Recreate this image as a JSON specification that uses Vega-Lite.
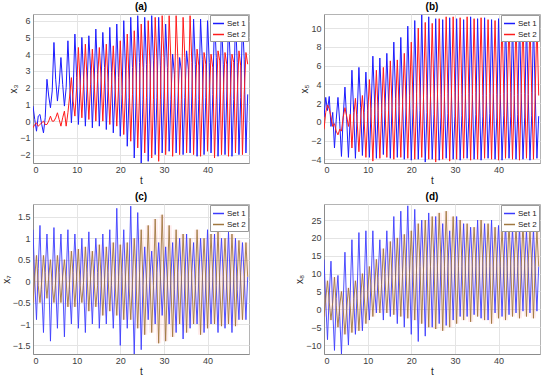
{
"$schema":"https://vega.github.io/schema/vega-lite/v6.json",
"background":"white",
"padding":{"left":0,"top":1,"right":2,"bottom":0},
"datasets":{"ts":[
{"t":0,"a1":0.9,"a2":-0.4,"b1":0.5,"b2":-0.8,"c1":1.2,"c2":-0.5,"d1":14,"d2":-2},
{"t":0.4,"a1":0.1,"a2":-0.2,"b1":2.6,"b2":1.0,"c1":0,"c2":0.1,"d1":2,"d2":3},
{"t":0.8,"a1":-0.6,"a2":-0.1,"b1":1.2,"b2":1.8,"c1":-0.9,"c2":0.6,"d1":-8.5,"d2":8},
{"t":1.2,"a1":0.3,"a2":-0.3,"b1":2.7,"b2":1.4,"c1":0.3,"c2":-0.1,"d1":4,"d2":2},
{"t":1.6,"a1":0.4,"a2":-0.2,"b1":-0.5,"b2":0.5,"c1":1.3,"c2":-0.5,"d1":13.5,"d2":-3},
{"t":2.0,"a1":-0.2,"a2":-0.1,"b1":1.0,"b2":-0.5,"c1":-0.2,"c2":0.0,"d1":0,"d2":2},
{"t":2.4,"a1":-0.7,"a2":0.0,"b1":-2.8,"b2":-0.2,"c1":-1.2,"c2":0.6,"d1":-11.5,"d2":9},
{"t":2.8,"a1":0.2,"a2":-0.2,"b1":0.2,"b2":-1.0,"c1":0.2,"c2":0.1,"d1":3,"d2":1},
{"t":3.2,"a1":2.5,"a2":-0.2,"b1":2.6,"b2":-1.4,"c1":1.1,"c2":-0.4,"d1":9.5,"d2":-5},
{"t":3.6,"a1":1.5,"a2":0.0,"b1":0.0,"b2":-0.8,"c1":0.1,"c2":0.1,"d1":-2,"d2":1},
{"t":4.0,"a1":0.8,"a2":0.3,"b1":-3.7,"b2":-1.0,"c1":-1.4,"c2":0.5,"d1":-12.5,"d2":5},
{"t":4.4,"a1":1.8,"a2":0.0,"b1":0.5,"b2":0.5,"c1":0.0,"c2":-0.1,"d1":2,"d2":0},
{"t":4.8,"a1":4.7,"a2":0.0,"b1":3.7,"b2":1.5,"c1":1.25,"c2":-0.5,"d1":16,"d2":-7},
{"t":5.2,"a1":2.5,"a2":0.2,"b1":0.2,"b2":0.6,"c1":-0.1,"c2":0.0,"d1":0,"d2":0},
{"t":5.6,"a1":1.2,"a2":0.5,"b1":-3.8,"b2":-0.5,"c1":-1.1,"c2":0.6,"d1":-10,"d2":6},
{"t":6.0,"a1":2.2,"a2":0.1,"b1":0.3,"b2":0.8,"c1":0.2,"c2":0.1,"d1":4,"d2":1},
{"t":6.4,"a1":3.8,"a2":-0.3,"b1":5.5,"b2":-2.8,"c1":1.1,"c2":-0.5,"d1":19.5,"d2":-6.5},
{"t":6.8,"a1":2.2,"a2":0.2,"b1":1.0,"b2":0.5,"c1":0.0,"c2":0.1,"d1":3,"d2":2},
{"t":7.2,"a1":0.9,"a2":0.6,"b1":-3.9,"b2":2.5,"c1":-1.3,"c2":0.5,"d1":-7,"d2":8},
{"t":7.6,"a1":2.0,"a2":-0.3,"b1":0.8,"b2":0.0,"c1":0.1,"c2":0.0,"d1":5,"d2":3},
{"t":8.0,"a1":4.8,"a2":0.5,"b1":5.8,"b2":-3.2,"c1":1.2,"c2":-0.6,"d1":21.5,"d2":-6},
{"t":8.4,"a1":2.4,"a2":1.5,"b1":1.5,"b2":0.3,"c1":-0.2,"c2":0.0,"d1":4,"d2":3},
{"t":8.8,"a1":-0.1,"a2":2.6,"b1":-3.6,"b2":2.8,"c1":-1.0,"c2":0.7,"d1":-6,"d2":10},
{"t":9.2,"a1":1.8,"a2":1.2,"b1":1.0,"b2":0.2,"c1":0.2,"c2":0.1,"d1":6,"d2":4},
{"t":9.6,"a1":5.2,"a2":0.3,"b1":5.3,"b2":-3.8,"c1":1.1,"c2":-0.6,"d1":22,"d2":-4},
{"t":10.0,"a1":2.6,"a2":2.0,"b1":1.2,"b2":0.5,"c1":0.1,"c2":0.1,"d1":5,"d2":4},
{"t":10.4,"a1":-0.2,"a2":4.4,"b1":-3.8,"b2":4.5,"c1":-1.1,"c2":0.75,"d1":-3,"d2":12},
{"t":10.8,"a1":2.0,"a2":2.2,"b1":1.4,"b2":0.6,"c1":0.0,"c2":-0.1,"d1":8,"d2":6},
{"t":11.2,"a1":5.0,"a2":0.2,"b1":7.0,"b2":-4.2,"c1":1.0,"c2":-0.5,"d1":22,"d2":-2},
{"t":11.6,"a1":2.5,"a2":2.3,"b1":2.0,"b2":0.8,"c1":-0.1,"c2":0.0,"d1":6,"d2":6},
{"t":12.0,"a1":-0.3,"a2":4.6,"b1":-3.9,"b2":5.5,"c1":-1.2,"c2":0.8,"d1":-1,"d2":14},
{"t":12.4,"a1":2.1,"a2":2.4,"b1":1.2,"b2":1.0,"c1":0.2,"c2":0.1,"d1":9,"d2":7},
{"t":12.8,"a1":5.1,"a2":0.1,"b1":6.8,"b2":-3.9,"c1":1.15,"c2":-0.7,"d1":19.5,"d2":-1},
{"t":13.2,"a1":3.0,"a2":2.2,"b1":1.8,"b2":1.0,"c1":0.0,"c2":0.1,"d1":7,"d2":7},
{"t":13.6,"a1":-0.4,"a2":4.3,"b1":-3.5,"b2":5.8,"c1":-1.0,"c2":0.7,"d1":-3,"d2":17},
{"t":14.0,"a1":2.2,"a2":2.5,"b1":1.5,"b2":1.2,"c1":0.1,"c2":0.0,"d1":10,"d2":8},
{"t":14.4,"a1":5.5,"a2":0.0,"b1":7.3,"b2":-3.8,"c1":1.0,"c2":-0.6,"d1":22,"d2":-1},
{"t":14.8,"a1":2.8,"a2":2.5,"b1":2.2,"b2":1.2,"c1":0.2,"c2":-0.1,"d1":8,"d2":8},
{"t":15.2,"a1":-0.3,"a2":4.4,"b1":-3.9,"b2":6.5,"c1":-1.1,"c2":0.85,"d1":-2,"d2":19},
{"t":15.6,"a1":2.4,"a2":2.6,"b1":1.8,"b2":1.5,"c1":-0.1,"c2":0.1,"d1":11,"d2":9},
{"t":16.0,"a1":5.3,"a2":0.0,"b1":8.5,"b2":-4.0,"c1":1.1,"c2":-0.8,"d1":26,"d2":-1.5},
{"t":16.4,"a1":3.2,"a2":2.4,"b1":2.5,"b2":1.5,"c1":0.0,"c2":0.0,"d1":9,"d2":9},
{"t":16.8,"a1":-0.5,"a2":4.6,"b1":-3.8,"b2":6.6,"c1":-1.0,"c2":0.8,"d1":-4,"d2":20},
{"t":17.2,"a1":2.0,"a2":2.3,"b1":1.6,"b2":1.6,"c1":0.2,"c2":0.1,"d1":12,"d2":10},
{"t":17.6,"a1":5.6,"a2":-0.2,"b1":9.0,"b2":-3.8,"c1":1.2,"c2":-0.7,"d1":27.5,"d2":-2},
{"t":18.0,"a1":2.9,"a2":2.2,"b1":2.4,"b2":1.8,"c1":-0.1,"c2":0.1,"d1":10,"d2":10},
{"t":18.4,"a1":-0.7,"a2":4.5,"b1":-4.0,"b2":7.3,"c1":-1.1,"c2":0.9,"d1":-5,"d2":21},
{"t":18.8,"a1":1.8,"a2":2.2,"b1":1.5,"b2":2.0,"c1":0.0,"c2":0.0,"d1":12,"d2":11},
{"t":19.2,"a1":5.8,"a2":-0.3,"b1":10.2,"b2":-3.9,"c1":1.7,"c2":-0.8,"d1":29,"d2":-2.5},
{"t":19.6,"a1":2.6,"a2":2.0,"b1":2.8,"b2":2.0,"c1":0.1,"c2":0.0,"d1":10,"d2":10},
{"t":20.0,"a1":-0.9,"a2":4.8,"b1":-4.1,"b2":8.5,"c1":-1.5,"c2":0.85,"d1":-7,"d2":22},
{"t":20.4,"a1":1.6,"a2":2.0,"b1":1.4,"b2":2.2,"c1":0.2,"c2":0.1,"d1":13,"d2":11},
{"t":20.8,"a1":6.0,"a2":-0.8,"b1":10.8,"b2":-4.0,"c1":1.2,"c2":-0.9,"d1":28,"d2":-3},
{"t":21.2,"a1":3.0,"a2":1.8,"b1":3.0,"b2":2.2,"c1":0.0,"c2":0.1,"d1":11,"d2":11},
{"t":21.6,"a1":-1.5,"a2":5.2,"b1":-4.0,"b2":10.0,"c1":-1.1,"c2":0.9,"d1":-9,"d2":24},
{"t":22.0,"a1":1.4,"a2":2.5,"b1":1.2,"b2":2.5,"c1":0.1,"c2":-0.1,"d1":12,"d2":12},
{"t":22.4,"a1":6.2,"a2":-1.2,"b1":11.4,"b2":-3.8,"c1":1.75,"c2":-0.9,"d1":25,"d2":-4},
{"t":22.8,"a1":3.2,"a2":1.6,"b1":2.6,"b2":2.5,"c1":-0.2,"c2":0.0,"d1":11,"d2":11},
{"t":23.2,"a1":-2.2,"a2":5.4,"b1":-4.3,"b2":10.6,"c1":-1.7,"c2":1.0,"d1":-7.5,"d2":25},
{"t":23.6,"a1":1.2,"a2":3.0,"b1":1.0,"b2":2.8,"c1":0.0,"c2":0.1,"d1":13,"d2":12},
{"t":24.0,"a1":6.3,"a2":-1.6,"b1":11.2,"b2":-4.0,"c1":1.6,"c2":-1.1,"d1":27,"d2":-5},
{"t":24.4,"a1":3.5,"a2":1.5,"b1":2.9,"b2":2.6,"c1":0.2,"c2":0.1,"d1":12,"d2":12},
{"t":24.8,"a1":-2.5,"a2":5.8,"b1":-4.0,"b2":10.5,"c1":-1.6,"c2":1.2,"d1":-5,"d2":26},
{"t":25.2,"a1":1.3,"a2":3.2,"b1":0.8,"b2":3.0,"c1":-0.1,"c2":0.0,"d1":12,"d2":13},
{"t":25.6,"a1":6.2,"a2":-1.9,"b1":11.0,"b2":-4.3,"c1":0.8,"c2":-1.25,"d1":26,"d2":-5.5},
{"t":26.0,"a1":3.4,"a2":1.4,"b1":3.0,"b2":2.8,"c1":0.0,"c2":0.0,"d1":11,"d2":12},
{"t":26.4,"a1":-2.4,"a2":6.0,"b1":-4.1,"b2":11.0,"c1":-0.9,"c2":1.3,"d1":-4,"d2":27},
{"t":26.8,"a1":1.5,"a2":3.4,"b1":0.5,"b2":2.9,"c1":0.1,"c2":0.1,"d1":13,"d2":13},
{"t":27.2,"a1":6.3,"a2":-2.2,"b1":10.9,"b2":-4.0,"c1":0.7,"c2":-1.2,"d1":24,"d2":-6},
{"t":27.6,"a1":3.6,"a2":1.3,"b1":2.7,"b2":2.7,"c1":-0.1,"c2":-0.1,"d1":12,"d2":12},
{"t":28.0,"a1":-2.0,"a2":6.2,"b1":-3.9,"b2":11.2,"c1":-1.0,"c2":1.45,"d1":-4.5,"d2":27.5},
{"t":28.4,"a1":1.4,"a2":3.6,"b1":0.9,"b2":3.0,"c1":0.2,"c2":0.0,"d1":12,"d2":13},
{"t":28.8,"a1":6.2,"a2":-2.4,"b1":11.1,"b2":-4.2,"c1":0.9,"c2":-1.45,"d1":22,"d2":-5},
{"t":29.2,"a1":3.3,"a2":1.3,"b1":3.1,"b2":2.9,"c1":0.1,"c2":0.1,"d1":11,"d2":13},
{"t":29.6,"a1":-1.9,"a2":6.3,"b1":-4.0,"b2":11.2,"c1":-0.8,"c2":1.55,"d1":-3,"d2":26},
{"t":30.0,"a1":1.5,"a2":3.8,"b1":0.6,"b2":3.1,"c1":0.0,"c2":0.1,"d1":13,"d2":12},
{"t":30.4,"a1":5.8,"a2":-2.0,"b1":11.0,"b2":-4.0,"c1":0.8,"c2":-1.4,"d1":26,"d2":-4},
{"t":30.8,"a1":3.2,"a2":1.5,"b1":2.8,"b2":3.0,"c1":0.0,"c2":0.0,"d1":12,"d2":12},
{"t":31.2,"a1":-1.8,"a2":6.3,"b1":-4.1,"b2":11.1,"c1":-1.0,"c2":1.3,"d1":-2,"d2":25},
{"t":31.6,"a1":1.3,"a2":3.6,"b1":0.7,"b2":2.9,"c1":0.1,"c2":-0.1,"d1":12,"d2":13},
{"t":32.0,"a1":4.0,"a2":-2.1,"b1":10.9,"b2":-3.9,"c1":0.9,"c2":-1.3,"d1":24,"d2":-3},
{"t":32.4,"a1":2.8,"a2":1.4,"b1":3.0,"b2":2.8,"c1":-0.2,"c2":0.1,"d1":11,"d2":12},
{"t":32.8,"a1":-1.9,"a2":6.3,"b1":-3.9,"b2":11.2,"c1":-1.2,"c2":1.2,"d1":-2,"d2":24},
{"t":33.2,"a1":1.2,"a2":3.7,"b1":0.5,"b2":3.0,"c1":0.2,"c2":0.0,"d1":13,"d2":12},
{"t":33.6,"a1":3.8,"a2":-2.0,"b1":11.2,"b2":-4.1,"c1":1.0,"c2":-1.0,"d1":23,"d2":-3.5},
{"t":34.0,"a1":3.0,"a2":1.3,"b1":2.9,"b2":2.9,"c1":0.1,"c2":0.0,"d1":12,"d2":13},
{"t":34.4,"a1":-2.0,"a2":6.2,"b1":-4.0,"b2":11.0,"c1":-1.35,"c2":1.1,"d1":-1.5,"d2":23},
{"t":34.8,"a1":1.4,"a2":3.8,"b1":0.8,"b2":3.1,"c1":0.0,"c2":0.1,"d1":12,"d2":13},
{"t":35.2,"a1":4.2,"a2":-1.9,"b1":11.0,"b2":-4.0,"c1":1.1,"c2":-1.2,"d1":25,"d2":-2},
{"t":35.6,"a1":3.1,"a2":1.5,"b1":3.1,"b2":3.0,"c1":0.0,"c2":0.1,"d1":11,"d2":12},
{"t":36.0,"a1":-1.9,"a2":6.3,"b1":-4.1,"b2":11.1,"c1":-1.1,"c2":1.0,"d1":-2.5,"d2":25},
{"t":36.4,"a1":1.5,"a2":3.5,"b1":0.6,"b2":2.8,"c1":0.2,"c2":0.0,"d1":13,"d2":12},
{"t":36.8,"a1":6.1,"a2":-2.0,"b1":11.1,"b2":-3.9,"c1":0.9,"c2":-1.0,"d1":24,"d2":-3},
{"t":37.2,"a1":3.4,"a2":1.4,"b1":2.8,"b2":2.8,"c1":-0.1,"c2":-0.1,"d1":12,"d2":13},
{"t":37.6,"a1":-2.1,"a2":4.3,"b1":-3.9,"b2":10.9,"c1":-1.0,"c2":1.2,"d1":-3,"d2":24},
{"t":38.0,"a1":1.3,"a2":3.3,"b1":0.9,"b2":3.0,"c1":0.1,"c2":0.1,"d1":12,"d2":13},
{"t":38.4,"a1":6.1,"a2":-2.1,"b1":10.9,"b2":-4.0,"c1":1.0,"c2":-1.25,"d1":25,"d2":-4},
{"t":38.8,"a1":3.7,"a2":1.2,"b1":3.0,"b2":3.1,"c1":0.2,"c2":0.0,"d1":11,"d2":12},
{"t":39.2,"a1":-2.0,"a2":4.1,"b1":-4.0,"b2":10.8,"c1":-1.2,"c2":1.0,"d1":-1,"d2":23},
{"t":39.6,"a1":1.4,"a2":3.4,"b1":0.5,"b2":2.9,"c1":0.0,"c2":0.0,"d1":13,"d2":12},
{"t":40.0,"a1":6.0,"a2":-1.8,"b1":11.0,"b2":-4.1,"c1":1.2,"c2":-1.1,"d1":23.5,"d2":-2.5},
{"t":40.4,"a1":3.5,"a2":1.5,"b1":2.9,"b2":2.9,"c1":0.0,"c2":0.1,"d1":12,"d2":13},
{"t":40.8,"a1":-1.9,"a2":4.0,"b1":-4.1,"b2":11.0,"c1":-1.0,"c2":1.1,"d1":-2,"d2":22},
{"t":41.2,"a1":1.6,"a2":3.2,"b1":0.7,"b2":3.0,"c1":0.1,"c2":0.1,"d1":12,"d2":13},
{"t":41.6,"a1":6.2,"a2":-2.2,"b1":11.1,"b2":-3.9,"c1":1.1,"c2":-1.0,"d1":24,"d2":-3},
{"t":42.0,"a1":3.8,"a2":1.3,"b1":3.1,"b2":3.0,"c1":-0.1,"c2":0.0,"d1":11,"d2":12},
{"t":42.4,"a1":-2.1,"a2":4.2,"b1":-3.9,"b2":10.9,"c1":-1.2,"c2":1.2,"d1":-1.5,"d2":24},
{"t":42.8,"a1":1.2,"a2":3.6,"b1":0.6,"b2":3.1,"c1":0.2,"c2":-0.1,"d1":13,"d2":12},
{"t":43.2,"a1":6.0,"a2":-2.0,"b1":10.9,"b2":-4.0,"c1":1.0,"c2":-1.05,"d1":22.5,"d2":-2},
{"t":43.6,"a1":3.4,"a2":1.6,"b1":2.8,"b2":2.8,"c1":0.1,"c2":0.1,"d1":12,"d2":13},
{"t":44.0,"a1":-2.0,"a2":4.1,"b1":-4.0,"b2":10.8,"c1":-1.1,"c2":1.0,"d1":-1,"d2":23},
{"t":44.4,"a1":1.5,"a2":3.4,"b1":0.8,"b2":2.9,"c1":0.0,"c2":0.0,"d1":12,"d2":13},
{"t":44.8,"a1":6.1,"a2":-2.1,"b1":11.0,"b2":-4.1,"c1":1.15,"c2":-1.0,"d1":23,"d2":-2.5},
{"t":45.2,"a1":3.6,"a2":1.4,"b1":3.0,"b2":3.0,"c1":0.0,"c2":0.0,"d1":11,"d2":12},
{"t":45.6,"a1":-2.1,"a2":4.0,"b1":-4.0,"b2":10.9,"c1":-1.2,"c2":1.1,"d1":-0.5,"d2":24},
{"t":46.0,"a1":1.3,"a2":3.5,"b1":0.5,"b2":3.0,"c1":0.1,"c2":0.1,"d1":13,"d2":12},
{"t":46.4,"a1":6.2,"a2":-1.9,"b1":10.8,"b2":-3.9,"c1":1.0,"c2":-1.05,"d1":22,"d2":-2},
{"t":46.8,"a1":3.5,"a2":1.5,"b1":2.9,"b2":2.9,"c1":-0.2,"c2":0.1,"d1":12,"d2":13},
{"t":47.2,"a1":-2.0,"a2":4.2,"b1":-4.1,"b2":10.7,"c1":-0.9,"c2":0.95,"d1":-1,"d2":22},
{"t":47.6,"a1":1.4,"a2":3.3,"b1":0.7,"b2":3.1,"c1":0.2,"c2":0.0,"d1":12,"d2":13},
{"t":48.0,"a1":6.1,"a2":-2.0,"b1":10.8,"b2":-4.0,"c1":0.9,"c2":-0.9,"d1":22.5,"d2":-2.5},
{"t":48.4,"a1":3.7,"a2":1.6,"b1":3.1,"b2":3.0,"c1":0.1,"c2":0.0,"d1":11,"d2":12},
{"t":48.8,"a1":-1.9,"a2":4.1,"b1":-3.9,"b2":10.8,"c1":-0.9,"c2":0.9,"d1":-0.5,"d2":22},
{"t":49.2,"a1":1.6,"a2":3.4,"b1":0.6,"b2":2.8,"c1":0.1,"c2":0.1,"d1":12,"d2":12}
]},
"columns":2,
"spacing":{"row":5,"column":44},
"resolve":{"scale":{"color":"independent","x":"independent","y":"independent"},"legend":{"color":"independent"}},
"concat":[
{
 "title":"(a)","width":216,"height":149,
 "data":{"name":"ts"},
 "transform":[{"fold":["a1","a2"],"as":["s","v"]}],
 "mark":{"type":"line","strokeWidth":1,"clip":true},
 "encoding":{
  "x":{"field":"t","type":"quantitative","scale":{"domain":[0,49.5],"nice":false,"zero":false},"axis":{"title":"t","values":[0,10,20,30,40]}},
  "y":{"field":"v","type":"quantitative","scale":{"domain":[-2.5,6.4],"nice":false,"zero":false},"axis":{"title":"x₃","values":[-2,-1,0,1,2,3,4,5,6]}},
  "color":{"field":"s","type":"nominal","scale":{"domain":["a1","a2"],"range":["#1c1cff","#ff1c1c"]},"legend":{"labelExpr":"datum.label == 'a1' ? 'Set 1' : 'Set 2'"}}
 }
},
{
 "title":"(b)","width":216,"height":149,
 "data":{"name":"ts"},
 "transform":[{"fold":["b1","b2"],"as":["s","v"]}],
 "mark":{"type":"line","strokeWidth":1,"clip":true},
 "encoding":{
  "x":{"field":"t","type":"quantitative","scale":{"domain":[0,49.5],"nice":false,"zero":false},"axis":{"title":"t","values":[0,10,20,30,40]}},
  "y":{"field":"v","type":"quantitative","scale":{"domain":[-4.4,11.5],"nice":false,"zero":false},"axis":{"title":"x₅","values":[-4,-2,0,2,4,6,8,10]}},
  "color":{"field":"s","type":"nominal","scale":{"domain":["b1","b2"],"range":["#1c1cff","#ff1c1c"]},"legend":{"labelExpr":"datum.label == 'b1' ? 'Set 1' : 'Set 2'"}}
 }
},
{
 "title":"(c)","width":216,"height":150,
 "data":{"name":"ts"},
 "transform":[{"fold":["c1","c2"],"as":["s","v"]}],
 "encoding":{
  "x":{"field":"t","type":"quantitative","scale":{"domain":[0,49.5],"nice":false,"zero":false},"axis":{"title":"t","values":[0,10,20,30,40]}},
  "y":{"field":"v","type":"quantitative","scale":{"domain":[-1.7,1.8],"nice":false,"zero":false},"axis":{"title":"x₇","values":[-1.5,-1,-0.5,0,0.5,1,1.5],"format":"~g"}}
 },
 "layer":[
  {"transform":[{"filter":"datum.s == 'c2'"}],"mark":{"type":"line","strokeWidth":5,"color":"#ff9090","opacity":0.16,"clip":true}},
  {"mark":{"type":"line","strokeWidth":0.9,"clip":true},
   "encoding":{"color":{"field":"s","type":"nominal","scale":{"domain":["c1","c2"],"range":["#3c3cff","#a07840"]},"legend":{"labelExpr":"datum.label == 'c1' ? 'Set 1' : 'Set 2'"}}}}
 ]
},
{
 "title":"(d)","width":216,"height":150,
 "data":{"name":"ts"},
 "transform":[{"fold":["d1","d2"],"as":["s","v"]}],
 "encoding":{
  "x":{"field":"t","type":"quantitative","scale":{"domain":[0,49.5],"nice":false,"zero":false},"axis":{"title":"t","values":[0,10,20,30,40]}},
  "y":{"field":"v","type":"quantitative","scale":{"domain":[-12.5,29.5],"nice":false,"zero":false},"axis":{"title":"x₈","values":[-10,-5,0,5,10,15,20,25]}}
 },
 "layer":[
  {"transform":[{"filter":"datum.s == 'd2'"}],"mark":{"type":"line","strokeWidth":5,"color":"#ff9090","opacity":0.16,"clip":true}},
  {"mark":{"type":"line","strokeWidth":0.9,"clip":true},
   "encoding":{"color":{"field":"s","type":"nominal","scale":{"domain":["d1","d2"],"range":["#3c3cff","#a07840"]},"legend":{"labelExpr":"datum.label == 'd1' ? 'Set 1' : 'Set 2'"}}}}
 ]
}
],
"config":{
 "font":"Liberation Sans",
 "view":{"stroke":"#b4b4b4"},
 "axis":{"labelFontSize":9,"labelColor":"#404040","titleFontSize":10,"titleFontWeight":"normal","titleColor":"#262626","gridColor":"#e4e4e4","domainColor":"#8c8c8c","ticks":false,"labelPadding":3,"titlePadding":1},
 "axisX":{"labelPadding":2},
 "title":{"fontSize":10,"fontWeight":"bold","offset":2,"color":"#000000"},
 "legend":{"orient":"top-right","offset":1,"title":null,"fillColor":"white","strokeColor":"#9a9a9a","padding":2,"labelFontSize":8,"labelColor":"#222222","symbolType":"stroke","symbolSize":120,"symbolStrokeWidth":1.5,"rowPadding":0,"labelOffset":2}
}
}
